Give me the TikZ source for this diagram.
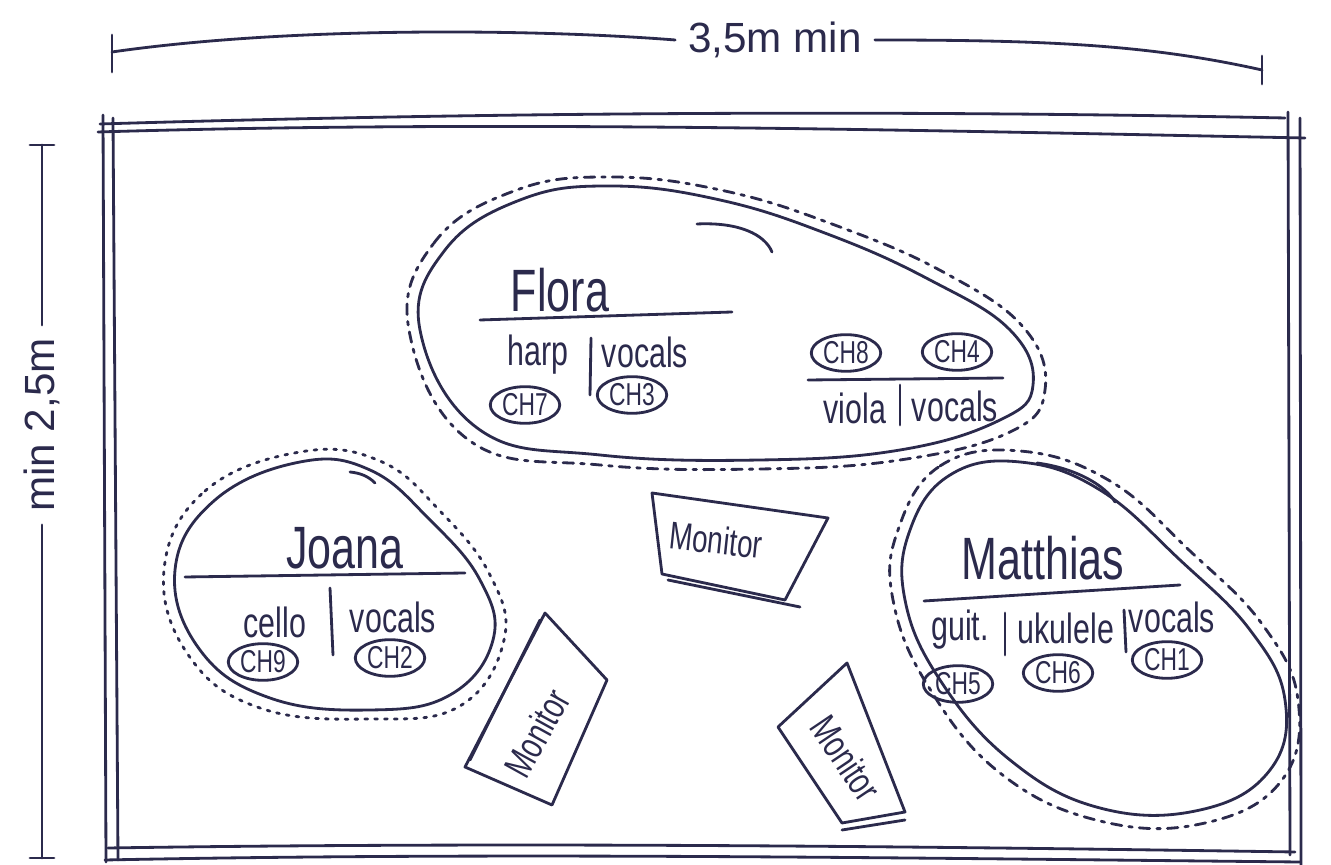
\documentclass[tikz,border=0pt]{standalone}
\usepackage{fontspec}
\usepackage{graphicx}
\setmainfont{Liberation Sans}
\usetikzlibrary{shapes}
\definecolor{ink}{HTML}{2B2A4C}
\def\px{0.01cm}
\def\nar{0.72}
\tikzstyle{chan}=[draw,ellipse,inner sep=0.5pt,font=\fontsize{9}{10}\selectfont]
\tikzstyle{lbl}=[font=\fontsize{12}{14}\selectfont]
\tikzstyle{who}=[font=\fontsize{17}{20}\selectfont]
\tikzstyle{mon}=[font=\fontsize{11}{13}\selectfont]
\tikzstyle{halo}=[dash pattern=on 3pt off 2pt on 1pt off 2pt]
\newcommand{\newChan}[3]{\node[chan](#1) at (#2){\scalebox{\nar}[1]{#3}};}
\newcommand{\newLabel}[4]{\node[#4](#1) at (#2){\scalebox{\nar}[1]{#3}};}

\begin{document}
\begin{tikzpicture}[x=\px,y=-\px,ink,
      line cap=round,line join=round,
      thick  %thick, semithick
      ]
      \useasboundingbox (0,0) rectangle (1331,865);
      % stage
      \draw (100,124) .. controls (500,112) and (900,110) .. (1285,118);
      \draw (98,132) .. controls (500,120) and (900,130) .. (1305,138);
      \draw (103,115) -- (106,862);
      \draw (113,118) -- (118,860);
      \draw (1288,112) -- (1290,855);
      \draw (1300,118) -- (1301,865);
      \draw (108,848) .. controls (500,842) and (900,846) .. (1295,852);
      \draw (105,860) .. controls (500,852) and (900,858) .. (1300,862);
      % width
      \coordinate (wl) at (112,52);
      \coordinate (wr) at (1262,70);
      \node[lbl] (wd) at (775,40) {3,5m min};
      \draw (wl) .. controls (300,25) and (550,30) .. (wd.west);
      \draw (wd.east) .. controls (1050,40) and (1150,45) .. (wr);
      \draw (wl) ++(0,-17) -- ++(0,37);
      \draw (wr) ++(0,-14) -- ++(0,28);
      % depth
      \coordinate (ht) at (42,145);
      \coordinate (hb) at (42,858);
      \node[lbl,rotate=90] (hd) at (42,425) {min 2,5m};
      \draw (ht) -- (hd.east);
      \draw (hd.west) -- (hb);
      \draw (ht) ++(-12,0) -- ++(24,0);
      \draw (hb) ++(-12,0) -- ++(24,0);
      % Flora
      \draw plot[smooth cycle,tension=0.7] coordinates {(420,330) (445,250) (520,200) (610,186) (720,200) (830,235) (930,280) (1010,330) (1033,385) (1000,420) (900,450) (760,460) (600,455) (480,430)};
      \draw[halo] plot[smooth cycle,tension=0.7] coordinates {(409,330) (434,243) (514,191) (610,177) (725,191) (840,227) (945,273) (1024,328) (1045,390) (1010,432) (900,460) (760,469) (600,465) (470,441)};
      \draw (697,224) .. controls (740,222) and (765,235) .. (772,252);
      \newLabel{flora}{560,290}{Flora}{who}
      \draw (480,320) -- (732,312);
      \newLabel{harp}{538,355}{harp}{lbl}
      \newLabel{fvoc}{645,352}{vocals}{lbl}
      \draw (591,338) -- (590,395);
      \newChan{ch7}{525,405}{CH7}
      \newChan{ch3}{632,395}{CH3}
      \newChan{ch8}{846,353}{CH8}
      \newChan{ch4}{957,352}{CH4}
      \draw (808,380) -- (1003,378);
      \newLabel{viola}{855,408}{viola}{lbl}
      \newLabel{fvocb}{955,406}{vocals}{lbl}
      \draw (900,385) -- (900,425);
      % Joana
      \draw plot[smooth cycle,tension=0.7] coordinates {(175,570) (215,500) (300,462) (370,470) (430,520) (480,580) (493,640) (450,695) (370,710) (270,698) (200,650)};
      \draw[dotted] plot[smooth cycle,tension=0.7] coordinates {(164,570) (205,491) (300,452) (380,461) (440,511) (490,575) (504,640) (460,706) (370,719) (260,708) (189,656)};
      \draw (350,472) .. controls (360,473) and (368,476) .. (375,483);
      \newLabel{joana}{345,548}{Joana}{who}
      \draw (185,577) -- (465,573);
      \newLabel{cello}{275,622}{cello}{lbl}
      \newLabel{jvoc}{393,617}{vocals}{lbl}
      \draw (330,588) -- (333,655);
      \newChan{ch9}{263,662}{CH9}
      \newChan{ch2}{390,658}{CH2}
      % Matthias
      \draw plot[smooth cycle,tension=0.7] coordinates {(910,530) (950,475) (1020,462) (1100,490) (1180,560) (1250,630) (1285,700) (1270,770) (1200,810) (1100,808) (1010,760) (940,680) (905,600)};
      \draw[halo] plot[smooth cycle,tension=0.7] coordinates {(898,530) (940,466) (1020,451) (1110,481) (1190,551) (1262,624) (1298,700) (1282,780) (1205,823) (1100,821) (1000,773) (928,686) (893,600)};
      \draw (1037,463) .. controls (1075,468) and (1105,485) .. (1115,502);
      \newLabel{matt}{1043,558}{Matthias}{who}
      \draw (924,601) -- (1180,585);
      \newLabel{guit}{960,630}{guit.}{lbl}
      \draw (1005,613) -- (1005,655);
      \newLabel{uku}{1066,628}{ukulele}{lbl}
      \draw (1124,610) -- (1126,652);
      \newLabel{mvoc}{1172,617}{vocals}{lbl}
      \newChan{ch5}{958,684}{CH5}
      \newChan{ch6}{1058,673}{CH6}
      \newChan{ch1}{1167,660}{CH1}
      % monitors
      \draw (652,493) -- (828,518) -- (785,600) -- (662,574) -- cycle;
      \draw (668,580) -- (800,607);
      \node[mon,rotate=-6] (mona) at (716,540) {\scalebox{\nar}[1]{Monitor}};
      \draw (545,613) -- (607,680) -- (552,805) -- (465,767) -- cycle;
      \draw (540,620) -- (470,760);
      \node[mon,rotate=61] (monb) at (537,733) {\scalebox{\nar}[1]{Monitor}};
      \draw (847,663) -- (905,812) -- (842,823) -- (778,727) -- cycle;
      \draw (842,830) -- (905,820);
      \node[mon,rotate=-56] (monc) at (846,758) {\scalebox{\nar}[1]{Monitor}};
\end{tikzpicture}
\end{document}
